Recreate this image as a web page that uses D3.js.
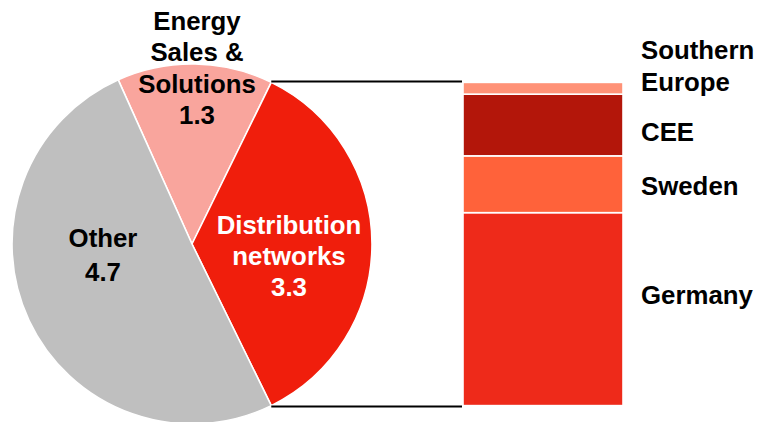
<!DOCTYPE html>
<html>
<head>
<meta charset="utf-8">
<script src="https://cdn.jsdelivr.net/npm/d3@7"></script>
<style>
  html, body { margin: 0; padding: 0; background: #ffffff; }
  svg { display: block; }
  text { font-family: "Liberation Sans", Arial, Helvetica, sans-serif; font-weight: bold; }
</style>
</head>
<body>
<svg id="chart" width="759" height="422"></svg>
<script>
// Segment totals (pie)
const segments = ["Energy Sales & Solutions", "Distribution networks", "Other"];
const segmentValues = [1.3, 3.3, 4.7];
const segmentLabels = [["Energy", "Sales &", "Solutions", "1.3"], ["Distribution", "networks", "3.3"], ["Other", "4.7"]];

// Distribution networks split by country (bar, bottom to top)
const regions = ["Germany", "Sweden", "CEE", "Southern Europe"];
const regionValues = [1.97, 0.58, 0.63, 0.12];
const regionLabels = [["Germany"], ["Sweden"], ["CEE"], ["Southern", "Europe"]];

const pieColors = ["#F9A59D", "#F01E0C", "#BFBFBF"];
const barColors = ["#EE2A1A", "#FF623A", "#B3160A", "#FF9277"];

const svg = d3.select("#chart");
const cx = 192, cy = 244, r = 180;
const total = d3.sum(segmentValues);
const distIdx = 1;

// Rotate so the distribution slice points straight to the right
const distSpan = segmentValues[distIdx] / total * 2 * Math.PI;
const before = d3.sum(segmentValues.slice(0, distIdx)) / total * 2 * Math.PI;
const startAngle = Math.PI / 2 - distSpan / 2 - before;

const pie = d3.pie().sort(null).value(d => d)
  .startAngle(startAngle).endAngle(startAngle + 2 * Math.PI);
const arcs = pie(segmentValues);
const arc = d3.arc().innerRadius(0).outerRadius(r);

const g = svg.append("g").attr("transform", `translate(${cx},${cy})`);
g.selectAll("path").data(arcs).join("path")
  .attr("d", arc)
  .attr("fill", (d, i) => pieColors[i])
  .attr("stroke", "#ffffff")
  .attr("stroke-width", 1.6)
  .attr("stroke-linejoin", "round");

// Edge points of the distribution slice
const dArc = arcs[distIdx];
const pt = a => [cx + r * Math.sin(a), cy - r * Math.cos(a)];
const pTop = pt(dArc.startAngle);
const pBot = pt(dArc.endAngle);

// Stacked bar
const barX0 = 463, barX1 = 623;
const y = d3.scaleLinear().domain([0, segmentValues[distIdx]]).range([pBot[1], pTop[1]]);
let acc = 0;
const stack = regionValues.map((v, i) => { const s = { i, y0: acc, y1: acc + v }; acc += v; return s; });

svg.append("g").selectAll("rect").data(stack).join("rect")
  .attr("x", barX0)
  .attr("width", barX1 - barX0)
  .attr("y", d => y(d.y1))
  .attr("height", d => y(d.y0) - y(d.y1))
  .attr("fill", d => barColors[d.i])
  .attr("stroke", "#ffffff")
  .attr("stroke-width", 1.6);

// Connector lines
svg.append("g").selectAll("line").data([pTop, pBot]).join("line")
  .attr("x1", d => d[0]).attr("y1", (d, i) => i === 0 ? d[1] - 0.8 : d[1] + 0.8)
  .attr("x2", barX0 - 1).attr("y2", (d, i) => i === 0 ? d[1] - 0.8 : d[1] + 0.8)
  .attr("stroke", "#000000").attr("stroke-width", 2);

// Pie labels
const fs = 25.8;
const pieLabelLayout = [
  { x: 197, y: 29.5, lh: 31.6, fill: "#000000" },
  { x: 289, y: 233.5, lh: 31, fill: "#ffffff" },
  { x: 103, y: 247, lh: 33.5, fill: "#000000" }
];
segmentLabels.forEach((lines, i) => {
  const L = pieLabelLayout[i];
  const t = svg.append("text")
    .attr("x", L.x).attr("y", L.y)
    .attr("text-anchor", "middle")
    .attr("font-size", fs)
    .attr("fill", L.fill);
  lines.forEach((s, j) => t.append("tspan").attr("x", L.x).attr("dy", j === 0 ? 0 : L.lh).text(s));
});

// Bar labels
const barLabelLayout = [{ y: 303.5 }, { y: 194.5 }, { y: 140.5 }, { y: 58.5 }];
regionLabels.forEach((lines, i) => {
  const t = svg.append("text")
    .attr("x", 641).attr("y", barLabelLayout[i].y)
    .attr("font-size", fs)
    .attr("fill", "#000000");
  lines.forEach((s, j) => t.append("tspan").attr("x", 641).attr("dy", j === 0 ? 0 : 32.5).text(s));
});
</script>
</body>
</html>
